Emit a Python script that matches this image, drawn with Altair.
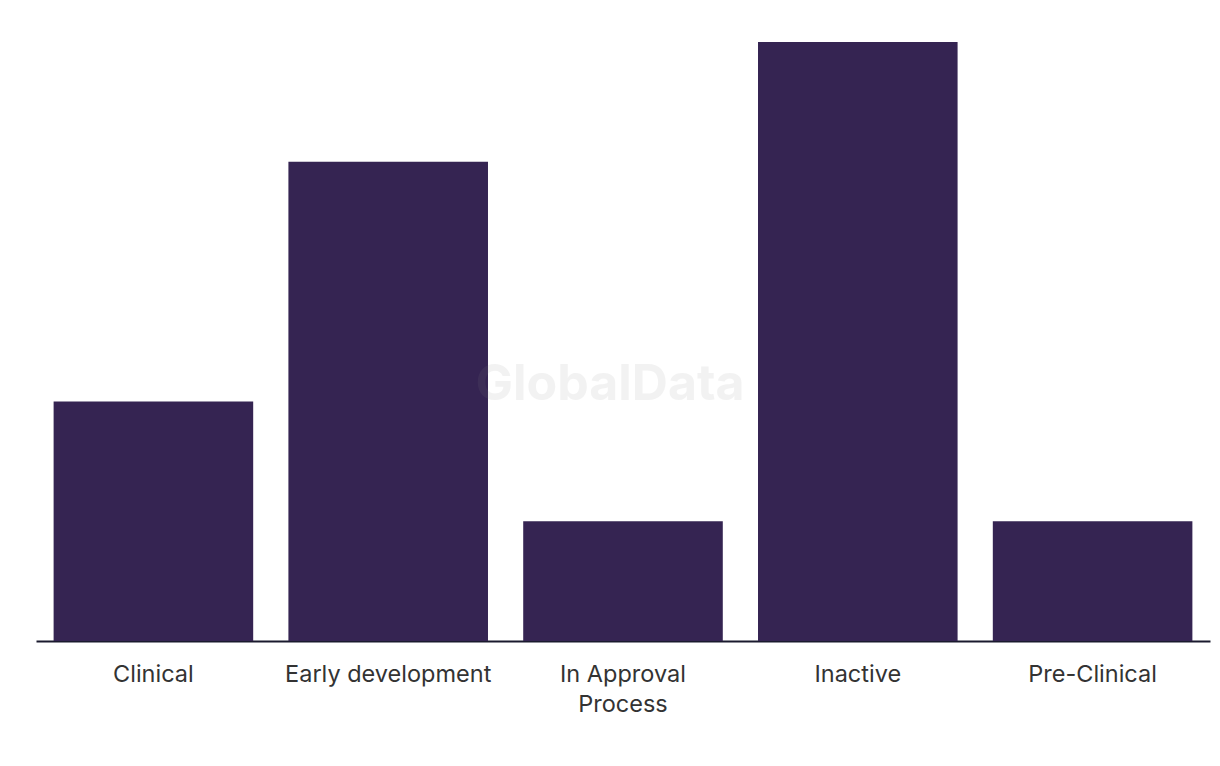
import altair as alt
import pandas as pd

categories = ["Clinical", "Early development", "In Approval Process", "Inactive", "Pre-Clinical"]
values = [2, 4, 1, 5, 1]
watermark = ["GlobalData"]

df = pd.DataFrame({"stage": categories, "count": values})
wm = pd.DataFrame({"text": watermark})

bars = alt.Chart(df).mark_bar(color="#352452").encode(
    x=alt.X(
        "stage:N",
        sort=categories,
        title=None,
        scale=alt.Scale(paddingInner=0.15, paddingOuter=0.075),
        axis=alt.Axis(
            labelAngle=0,
            ticks=False,
            domainColor="#1a1a2e",
            domainWidth=2,
            labelFont="Inter",
            labelFontSize=23.5,
            labelColor="#333333",
            labelPadding=21,
            labelLimit=0,
            labelLineHeight=30,
            labelExpr="datum.value == 'In Approval Process' ? ['In Approval', 'Process'] : datum.value",
        ),
    ),
    y=alt.Y("count:Q", scale=alt.Scale(domain=[0, 5], nice=False), axis=None),
)

text = alt.Chart(wm).mark_text(
    font="Inter", fontSize=50, fontWeight="bold", color="#878787", opacity=0.1,
    align="center", baseline="middle"
).encode(text="text:N", x=alt.value(574), y=alt.value(343))

chart = alt.layer(bars, text).properties(
    width=1174,
    height=599,
    autosize=alt.AutoSizeParams(type="none"),
    padding={"left": 36, "top": 42, "right": 10, "bottom": 125},
).configure_view(stroke=None)

chart.save("out.html", embed_options={"renderer": "svg", "actions": False})
